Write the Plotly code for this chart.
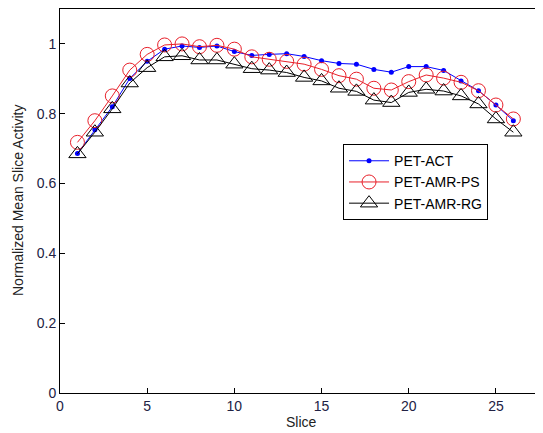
import plotly.graph_objects as go

slices = list(range(1, 27))

pet_act = [0.686, 0.754, 0.82, 0.901, 0.95, 0.985, 0.994, 0.99, 0.994, 0.978,
           0.967, 0.97, 0.972, 0.964, 0.952, 0.944, 0.942, 0.927, 0.919, 0.935,
           0.935, 0.924, 0.894, 0.866, 0.825, 0.78]
pet_amr_ps = [0.718, 0.78, 0.851, 0.925, 0.97, 0.997, 1.0, 0.992, 0.996, 0.985,
              0.963, 0.956, 0.95, 0.942, 0.927, 0.909, 0.899, 0.873, 0.868, 0.892,
              0.911, 0.902, 0.89, 0.866, 0.825, 0.785]
pet_amr_rg = [0.685, 0.747, 0.814, 0.888, 0.932, 0.963, 0.966, 0.954, 0.954, 0.942,
              0.929, 0.925, 0.918, 0.904, 0.894, 0.873, 0.864, 0.839, 0.832, 0.861,
              0.87, 0.865, 0.851, 0.828, 0.785, 0.747]

x_ticks = [0, 5, 10, 15, 20, 25]
y_ticks = [0, 0.2, 0.4, 0.6, 0.8, 1]
y_tick_text = ["0", "0.2", "0.4", "0.6", "0.8", "1"]

fig = go.Figure()

fig.add_trace(go.Scatter(
    x=slices, y=pet_act, name="PET-ACT", mode="lines+markers",
    line=dict(color="#0000ff", width=1),
    marker=dict(symbol="circle", size=5, color="#0000ff"),
))
fig.add_trace(go.Scatter(
    x=slices, y=pet_amr_ps, name="PET-AMR-PS", mode="lines+markers",
    line=dict(color="#e8202a", width=1),
    marker=dict(symbol="circle-open", size=14, color="#e8202a", line=dict(width=1)),
))
fig.add_trace(go.Scatter(
    x=slices, y=pet_amr_rg, name="PET-AMR-RG", mode="lines+markers",
    line=dict(color="#000000", width=1),
    marker=dict(symbol="triangle-up-open", size=15, color="#000000", line=dict(width=1)),
))

font_name = "Liberation Sans, Arial, sans-serif"
axis_font = dict(family=font_name, size=14, color="#222244")
title_font = dict(family=font_name, size=14, color="#222")

fig.update_xaxes(
    range=[0, 27.7], tickvals=x_ticks, ticks="inside", ticklen=5, tickcolor="#000",
    showline=True, linecolor="#000", linewidth=1, mirror=True,
    showgrid=False, zeroline=False, tickfont=axis_font, automargin=False,
)
fig.update_yaxes(
    range=[0, 1.1], tickvals=y_ticks, ticktext=y_tick_text, ticks="inside", ticklen=5,
    tickcolor="#000", showline=True, linecolor="#000", linewidth=1,
    showgrid=False, zeroline=False, tickfont=axis_font, automargin=False,
)

# axis titles as annotations so their place is fixed
fig.add_annotation(text="Slice", xref="paper", yref="paper", x=0.5, y=0,
                   yanchor="middle", yshift=-29, showarrow=False, font=title_font)
fig.add_annotation(text="Normalized Mean Slice Activity", xref="paper", yref="paper",
                   x=0, y=0.5, xanchor="center", xshift=-42, textangle=-90,
                   showarrow=False, font=title_font)

# page body keeps its 8px browser margin, so the figure is 8px smaller
fig.update_layout(
    width=535, height=425,
    margin=dict(l=52, r=0, t=1, b=40),
    paper_bgcolor="white", plot_bgcolor="white",
    legend=dict(
        x=0.586, y=0.648, xanchor="left", yanchor="top",
        bgcolor="white", bordercolor="#000", borderwidth=1,
        font=dict(family=font_name, size=14, color="#000"),
        tracegroupgap=0, itemwidth=40,
    ),
)

fig.write_html("out.html")
